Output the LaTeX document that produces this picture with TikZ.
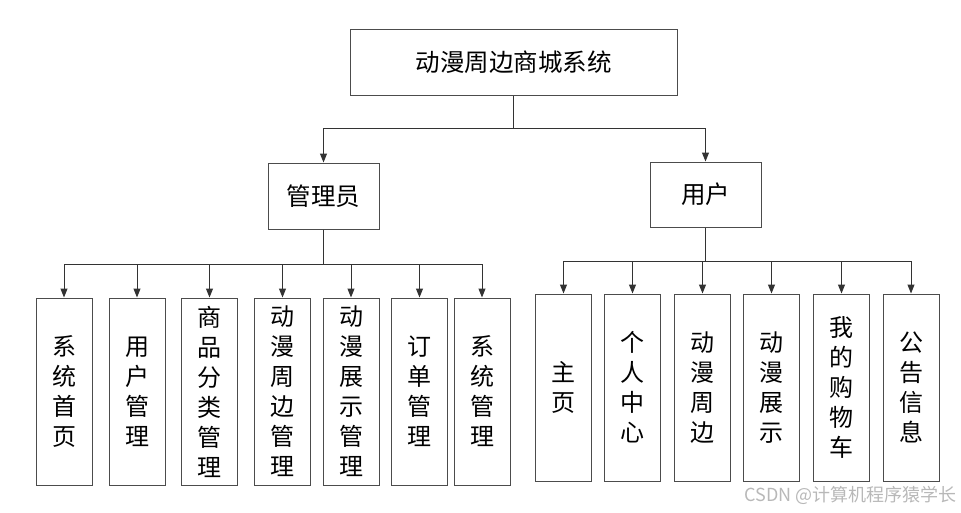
\documentclass[tikz,border=0pt]{standalone}
\usepackage{fontspec}
\newfontfamily\cjk{Noto Sans CJK SC}
\usetikzlibrary{arrows.meta}
\begin{document}
\begin{tikzpicture}[x=1pt,y=1pt,
  box/.style={draw=black!70,line width=1pt,inner sep=0pt,align=center,font=\cjk\fontsize{24.5}{30}\selectfont},
  vbox/.style={box,minimum width=56,minimum height=187,font=\cjk\fontsize{24}{30}\selectfont},
  conn/.style={draw=black!80,line width=1pt},
  arr/.style={conn,-{Triangle[length=9pt,width=7pt]}}]
\useasboundingbox (0,0) rectangle (961,-512);
\node[box,minimum width=327,minimum height=66] (top) at (513.5,-62) {动漫周边商城系统};
\node[box,minimum width=111,minimum height=66] (admin) at (323.5,-196) {管理员};
\node[box,minimum width=111,minimum height=65] (user) at (705.5,-194.5) {用户};
% admin children
\node[vbox] (a1) at (64,-391.5) {系\\统\\首\\页};
\node[vbox] (a2) at (137,-391.5) {用\\户\\管\\理};
\node[vbox] (a3) at (209.5,-391.5) {商\\品\\分\\类\\管\\理};
\node[vbox] (a4) at (282.5,-391.5) {动\\漫\\周\\边\\管\\理};
\node[vbox] (a5) at (351,-391.5) {动\\漫\\展\\示\\管\\理};
\node[vbox] (a6) at (419.5,-391.5) {订\\单\\管\\理};
\node[vbox] (a7) at (482,-391.5) {系\\统\\管\\理};
% user children
\node[vbox] (u1) at (563.5,-387.5) {主\\页};
\node[vbox] (u2) at (632.5,-387.5) {个\\人\\中\\心};
\node[vbox] (u3) at (702.5,-387.5) {动\\漫\\周\\边};
\node[vbox] (u4) at (771.5,-387.5) {动\\漫\\展\\示};
\node[vbox] (u5) at (841.5,-387.5) {我\\的\\购\\物\\车};
\node[vbox] (u6) at (911,-387.5) {公\\告\\信\\息};
% buses
\coordinate (tbus) at (513.5,-128);
\coordinate (abus) at (323.5,-264);
\coordinate (ubus) at (705.5,-261);
\draw[conn] (top.south) -- (tbus);
\draw[arr] (tbus) -| (admin.north);
\draw[arr] (tbus) -| (user.north);
\draw[conn] (admin.south) -- (abus);
\foreach \n in {a1,a2,a3,a4,a5,a6,a7} \draw[arr] (abus) -| (\n.north);
\draw[conn] (user.south) -- (ubus);
\foreach \n in {u1,u2,u3,u4,u5,u6} \draw[arr] (ubus) -| (\n.north);
\node[font=\cjk\fontsize{18}{20}\selectfont,text=black!28,anchor=east,inner sep=0pt] (wm) at (957,-495) {CSDN @计算机程序猿学长};
\end{tikzpicture}
\end{document}
